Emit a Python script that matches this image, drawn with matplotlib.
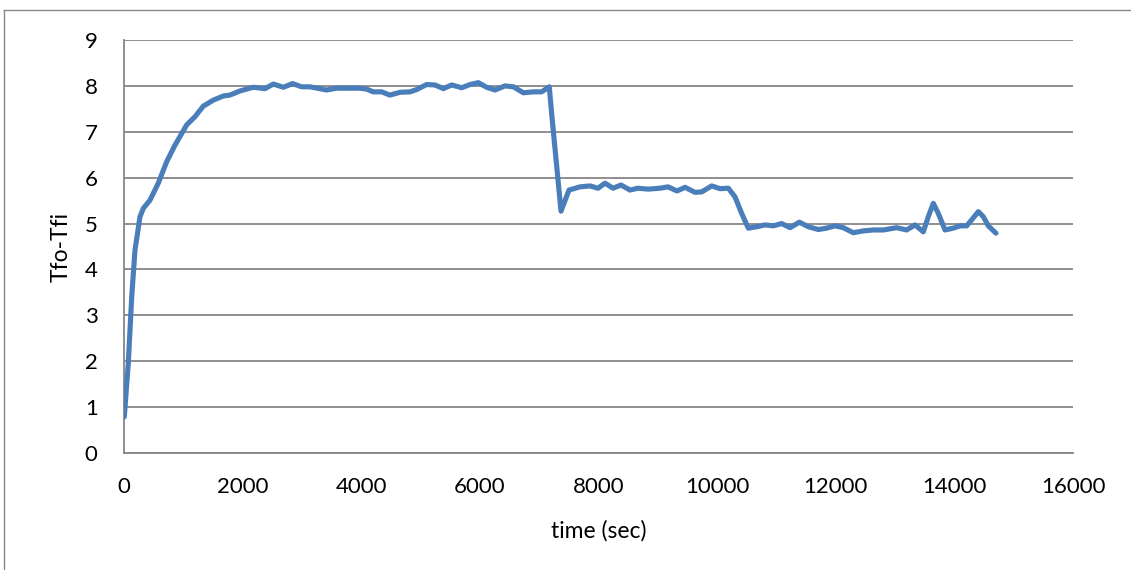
import matplotlib
matplotlib.use("Agg")
import matplotlib.pyplot as plt
from matplotlib.lines import Line2D

# Temperature difference across the collector over time
time_sec = [5, 72, 130, 185, 270, 325, 438, 578, 720, 860, 1057, 1197, 1338, 1506,
            1675, 1787, 1956, 2180, 2377, 2518, 2686, 2843, 2995, 3135, 3416, 3585,
            3978, 4090, 4203, 4344, 4484, 4653, 4822, 4934, 5103, 5243, 5384, 5525,
            5694, 5834, 5974, 6115, 6255, 6424, 6564, 6733, 6901, 7042, 7170, 7210,
            7368, 7503, 7690, 7857, 7992, 8110, 8245, 8380, 8531, 8666, 8835, 9037,
            9172, 9324, 9459, 9627, 9740, 9909, 10049, 10189, 10302, 10414, 10526,
            10667, 10807, 10948, 11088, 11229, 11386, 11538, 11706, 11847, 11987,
            12128, 12296, 12465, 12633, 12802, 13027, 13195, 13336, 13476, 13560,
            13645, 13729, 13842, 13982, 14095, 14207, 14291, 14404, 14488, 14572,
            14701]
tfo_tfi = [0.79, 1.95, 3.40, 4.42, 5.15, 5.33, 5.51, 5.88, 6.35, 6.71, 7.15, 7.33,
           7.56, 7.69, 7.78, 7.80, 7.89, 7.97, 7.94, 8.04, 7.97, 8.05, 7.98, 7.98,
           7.91, 7.95, 7.95, 7.93, 7.87, 7.87, 7.80, 7.86, 7.87, 7.92, 8.03, 8.02,
           7.94, 8.02, 7.96, 8.03, 8.07, 7.97, 7.91, 8.00, 7.98, 7.85, 7.87, 7.87,
           7.98, 7.40, 5.27, 5.73, 5.80, 5.82, 5.77, 5.88, 5.77, 5.84, 5.73, 5.77,
           5.75, 5.77, 5.80, 5.71, 5.79, 5.68, 5.69, 5.82, 5.76, 5.77, 5.58, 5.22,
           4.90, 4.93, 4.97, 4.95, 5.00, 4.91, 5.03, 4.93, 4.87, 4.90, 4.95, 4.91,
           4.80, 4.84, 4.86, 4.86, 4.91, 4.86, 4.97, 4.82, 5.15, 5.44, 5.22, 4.86,
           4.90, 4.95, 4.95, 5.08, 5.26, 5.15, 4.95, 4.79]

x_ticks = [0, 2000, 4000, 6000, 8000, 10000, 12000, 14000, 16000]
y_ticks = [0, 1, 2, 3, 4, 5, 6, 7, 8, 9]

LINE_BLUE = "#4A7EBB"
GRID_GRAY = "#868686"

plt.rcParams["font.family"] = ["Lato", "DejaVu Sans"]

fig = plt.figure(figsize=(11.31, 5.70), dpi=100)
ax = fig.add_axes([124 / 1131, 1 - 453 / 570, (1073 - 124) / 1131, (453 - 40) / 570])

ax.plot(time_sec, tfo_tfi, color=LINE_BLUE, lw=3.7, solid_joinstyle="round",
        solid_capstyle="round", zorder=3)

ax.set_xlim(0, 16000)
ax.set_ylim(0, 9)
ax.set_xticks(x_ticks)
ax.set_yticks(y_ticks)
ax.set_xticklabels([str(t) for t in x_ticks])
ax.set_yticklabels([str(t) for t in y_ticks])
ax.tick_params(length=0, labelsize=16, colors="black")
ax.tick_params(axis="y", pad=19)
ax.tick_params(axis="x", pad=17)

ax.grid(axis="y", color=GRID_GRAY, lw=1.3)
ax.set_axisbelow(True)
for side in ("top", "right"):
    ax.spines[side].set_visible(False)
for side in ("left", "bottom"):
    ax.spines[side].set_color(GRID_GRAY)
    ax.spines[side].set_linewidth(1.3)

ax.set_xlabel("time (sec)", fontsize=16.5, labelpad=17)
ax.set_ylabel("Tfo-Tfi", fontsize=16.5, labelpad=9)

# Outer chart frame
fig.add_artist(Line2D([4 / 1131, 4 / 1131], [0, 1 - 10 / 570], transform=fig.transFigure,
                      color=GRID_GRAY, lw=1.0))
fig.add_artist(Line2D([4 / 1131, 1], [1 - 10 / 570, 1 - 10 / 570], transform=fig.transFigure,
                      color=GRID_GRAY, lw=1.0))

fig.savefig("out.png", dpi=100)
